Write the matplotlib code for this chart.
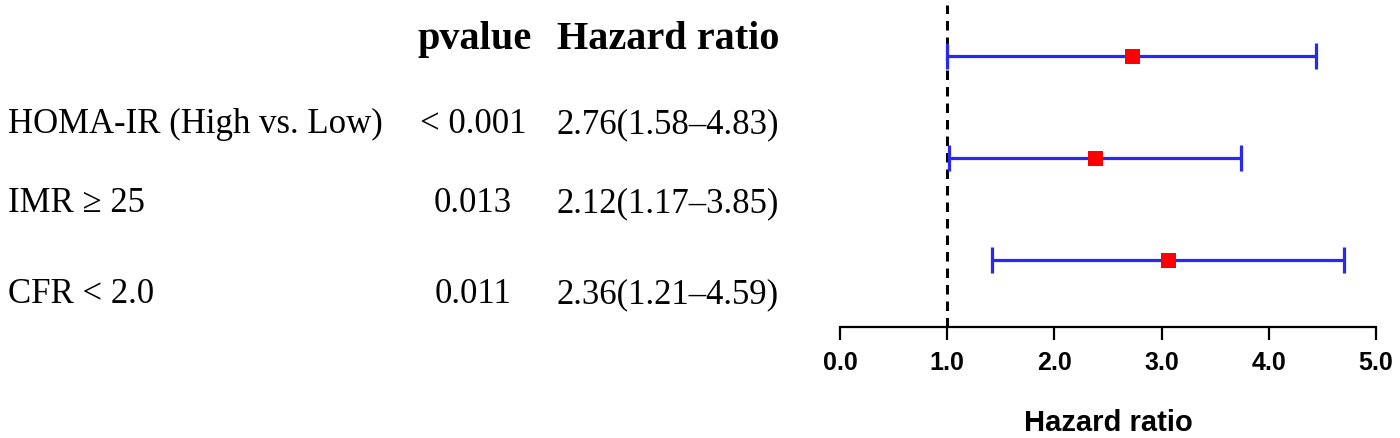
import matplotlib
matplotlib.use("Agg")
import matplotlib.pyplot as plt

# ---- data ----
labels = ["HOMA-IR (High vs. Low)", "IMR \u2265 25", "CFR < 2.0"]
pvalues = ["< 0.001", "0.013", "0.011"]
hr_text = ["2.76(1.58\u20134.83)", "2.12(1.17\u20133.85)", "2.36(1.21\u20134.59)"]
# values as drawn in the plot panel
hr_point = [2.72, 2.38, 3.06]
ci_low = [1.00, 1.02, 1.415]
ci_high = [4.44, 3.74, 4.70]
rows = [1, 2, 3]
xticks = [0.0, 1.0, 2.0, 3.0, 4.0, 5.0]
xtick_labels = ["0.0", "1.0", "2.0", "3.0", "4.0", "5.0"]

W, H = 1400, 439
fig = plt.figure(figsize=(W / 100, H / 100), dpi=100)
fig.patch.set_facecolor("white")

def fx(px):
    return px / W

def fy(py):
    return 1 - py / H

serif = ["Liberation Serif", "DejaVu Serif"]
sans = ["Liberation Sans", "DejaVu Sans"]

# ---- left table ----
fig.text(fx(475), fy(49), "pvalue", family=serif, fontweight="bold",
         fontsize=29, ha="center", va="baseline")
fig.text(fx(557), fy(49), "Hazard ratio", family=serif, fontweight="bold",
         fontsize=29, ha="left", va="baseline")
baselines = [133, 212, 303]
for lab, pv, hr, b in zip(labels, pvalues, hr_text, baselines):
    fig.text(fx(8), fy(b), lab, family=serif, fontsize=25, ha="left", va="baseline")
    fig.text(fx(473), fy(b), pv, family=serif, fontsize=25, ha="center", va="baseline")
    fig.text(fx(557), fy(b), hr, family=serif, fontsize=25, ha="left", va="baseline")

# ---- forest plot ----
x0, x1 = 840, 1376
axis_y = 328
ax = fig.add_axes([fx(x0), fy(axis_y), fx(x1 - x0), axis_y / H])
ax.set_facecolor("none")
row_top_px, row_step = 57.3, 101.7
ax.set_xlim(0, 5)
ax.set_ylim(1 + (axis_y - row_top_px) / row_step, 1 - row_top_px / row_step)

blue = "#2828F0"
red = "#FF0000"
xerr = [[p - l for p, l in zip(hr_point, ci_low)],
        [h - p for p, h in zip(hr_point, ci_high)]]
ax.errorbar(hr_point, rows, xerr=xerr, fmt="none", ecolor=blue,
            elinewidth=2.3, capsize=9.5, capthick=2.3, zorder=3)
ax.plot(hr_point, rows, "s", color=red, markersize=10.8,
        markeredgewidth=0, zorder=4)

ax.axvline(1.0, ymin=0, ymax=1 - 6 / axis_y, color="black",
           linestyle=(0, (3.1, 2.3)), linewidth=2.2, zorder=2)

for s in ["top", "right", "left"]:
    ax.spines[s].set_visible(False)
ax.spines["bottom"].set_linewidth(1.6)
ax.spines["bottom"].set_bounds(0, 5)
ax.set_yticks([])
ax.set_xticks(xticks)
ax.set_xticklabels(xtick_labels, family=sans, fontweight="bold", fontsize=18)
ax.tick_params(axis="x", direction="out", length=9.5, width=1.6, pad=7,
               colors="black")
ax.set_xlabel("Hazard ratio", family=sans, fontweight="bold", fontsize=21)
ax.xaxis.label.set_va("baseline")
ax.xaxis.set_label_coords(0.5, -(431 - axis_y) / axis_y)

fig.savefig("out.png", dpi=100, facecolor="white")
